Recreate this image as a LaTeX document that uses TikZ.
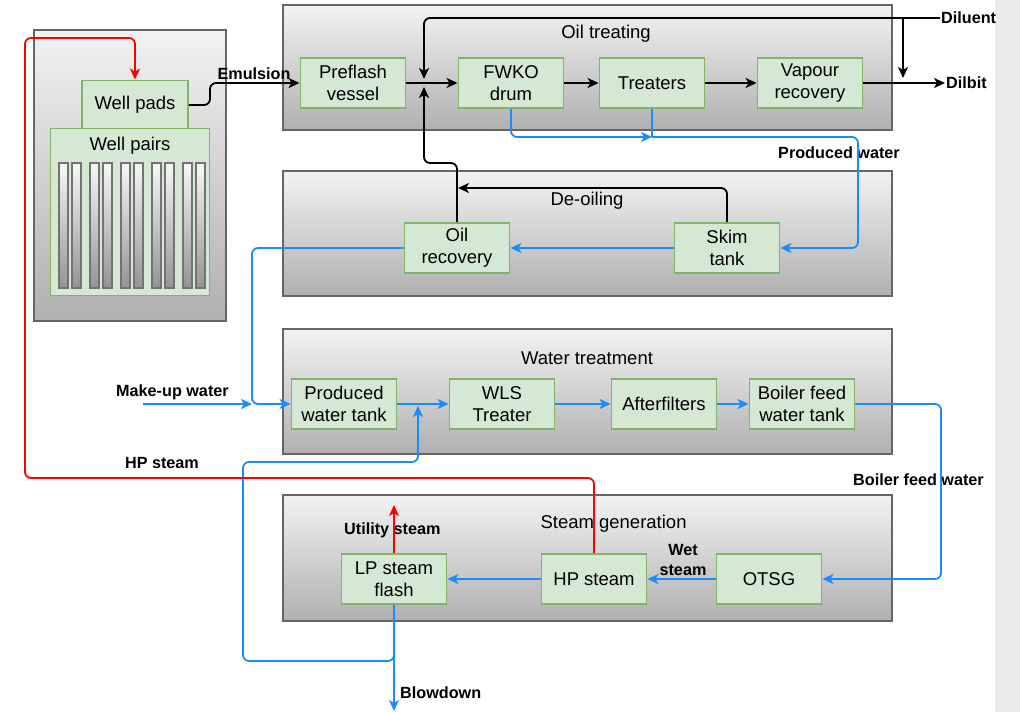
\documentclass[tikz,border=0pt]{standalone}
\usepackage{fontspec}
\setmainfont{Liberation Sans}
\usepackage{tikz}
\usetikzlibrary{arrows.meta,calc}

\definecolor{waterblue}{RGB}{26,140,255}
\definecolor{unitfill}{HTML}{D5E8D4}
\definecolor{unitline}{HTML}{82B366}
\definecolor{groupline}{HTML}{666666}

\begin{document}
\begin{tikzpicture}[x=1pt,y=-1pt,
  unit/.style={draw=unitline,fill=unitfill,line width=1.9pt,minimum width=105pt,
    minimum height=50pt,inner sep=0pt,align=center,font=\fontsize{18.5}{22}\selectfont},
  group/.style={draw=groupline,line width=1.8pt,top color=black!5,bottom color=black!31},
  title/.style={font=\fontsize{18.5}{22}\selectfont},
  tag/.style={font=\fontsize{16.2}{20}\selectfont\bfseries,align=center,inner sep=1pt},
  oil/.style={line width=1.8pt,-{Stealth[length=11pt,width=10pt,inset=3pt]}},
  water/.style={oil,draw=waterblue},
  steam/.style={oil,draw=red},
  tube/.style={draw=black!55,line width=1.4pt,top color=black!3,bottom color=black!42}]

\useasboundingbox (0,0) rectangle (1020,712);
\fill[black!8] (995,0) rectangle (1020,712);

% Well area
\draw[group] (34,30) rectangle (226,321);
\node[unit,minimum width=106pt,minimum height=49pt] (pads) at (135,105) {Well pads};
\node[unit,minimum width=159pt,minimum height=167pt] (pairs) at (130,212) {};
\node[title] (pairstitle) at (130,146) {Well pairs};
\foreach \x in {59,90,121,152,183}{
  \draw[tube] (\x,163) rectangle ++(9,125);
  \draw[tube] (\x+13,163) rectangle ++(9,125);
}

% Process groups
\draw[group] (283,5) rectangle (892,130);
\node[title] (oiltitle) at (606,34) {Oil treating};
\draw[group] (283,171) rectangle (892,296);
\node[title] (deoiltitle) at (587,201) {De-oiling};
\draw[group] (283,329) rectangle (892,454);
\node[title] (watertitle) at (587,358) {Water treatment};
\draw[group] (283,495) rectangle (892,621);
\node[title,anchor=west] (steamtitle) at (537,524) {Steam generation};

% Oil treating units
\node[unit] (preflash) at (353,83) {Preflash\\vessel};
\node[unit] (fwko) at (511,83) {FWKO\\drum};
\node[unit] (treaters) at (652,83) {Treaters};
\node[unit] (vapour) at (810,83) {Vapour\\recovery};

% De-oiling units
\node[unit] (oilrec) at (457,248) {Oil\\recovery};
\node[unit] (skim) at (727,248) {Skim\\tank};

% Water treatment units
\node[unit] (pwtank) at (344,404) {Produced\\water tank};
\node[unit] (wls) at (502,404) {WLS\\Treater};
\node[unit] (filters) at (664,404) {Afterfilters};
\node[unit] (bfwtank) at (802,404) {Boiler feed\\water tank};

% Steam generation units
\node[unit] (lpflash) at (394,579) {LP steam\\flash};
\node[unit] (hpsteam) at (594,579) {HP steam};
\node[unit] (otsg) at (769,579) {OTSG};

% Stream labels
\node[tag] (emulsion) at (254,74) {Emulsion};
\node[tag,anchor=west] (diluent) at (940,18) {Diluent};
\node[tag,anchor=west] (dilbit) at (945,83) {Dilbit};
\node[tag,anchor=west] (pwlabel) at (777,153) {Produced water};
\node[tag,anchor=west] (makeup) at (115,392) {Make-up water};
\node[tag] (hplabel) at (162,463) {HP steam};
\node[tag,anchor=west] (bfwlabel) at (852,480) {Boiler feed water};
\node[tag,anchor=west] (utility) at (343,530) {Utility steam};
\node[tag] (wetsteam) at (683,560) {Wet\\steam};
\node[tag,anchor=west] (blowlabel) at (399,693) {Blowdown};

\coordinate (mix) at (424,83);
\coordinate (dsplit) at (903,18);
\coordinate (pwjoin) at (652,137);
\coordinate (mujoin) at (252,404);
\coordinate (rejoin) at (418,404);
\coordinate (mustart) at (143,404);
\coordinate (utilend) at (394,505);
\coordinate (blowend) at (394,711);

% Oil line
\draw[oil,rounded corners=6pt] (pads.east) -- (210,105) -- (210,83) -- (preflash.west);
\draw[line width=1.8pt] (preflash.east) -- (mix);
\draw[oil] (mix) -- (fwko.west);
\draw[oil] (fwko.east) -- (treaters.west);
\draw[oil] (treaters.east) -- (vapour.west);
\draw[oil] (vapour.east) -- (dilbit.west);
\draw[oil,rounded corners=6pt,shorten >=4pt] (diluent.west) -- (424,18) -- (mix);
\draw[oil,shorten >=5pt] (dsplit) -- (dsplit |- dilbit.west);
\draw[oil,rounded corners=6pt,shorten >=4pt] (oilrec.north) -- (457,163) -- (424,163) -- (mix);
\draw[oil,rounded corners=6pt] (skim.north) -- (727,188) -- (458,188);

% Produced water
\draw[water,rounded corners=6pt] (fwko.south) -- (511,137) -- (pwjoin);
\draw[line width=1.8pt,draw=waterblue] (treaters.south) -- (pwjoin);
\draw[water,rounded corners=6pt] (pwjoin) -- (858,137) -- (858,248) -- (skim.east);
\draw[water] (skim.west) -- (oilrec.east);
\draw[water,rounded corners=6pt] (oilrec.west) -- (252,248) -- (mujoin) -- (pwtank.west);
\draw[water] (mustart) -- (mujoin);

% Water treatment
\draw[line width=1.8pt,draw=waterblue] (pwtank.east) -- (rejoin);
\draw[water] (rejoin) -- (wls.west);
\draw[water] (wls.east) -- (filters.west);
\draw[water] (filters.east) -- (bfwtank.west);
\draw[water,rounded corners=6pt] (bfwtank.east) -- (941,404) -- (941,579) -- (otsg.east);

% Steam generation
\draw[water] (otsg.west) -- (hpsteam.east);
\draw[water] (hpsteam.west) -- (lpflash.east);
\draw[steam] (lpflash.north) -- (utilend);
\draw[water] (lpflash.south) -- (blowend);
\draw[water,rounded corners=6pt,shorten >=2pt] (lpflash.south) -- (394,661) -- (243,661) -- (243,462) -- (418,462) -- (rejoin);
\draw[steam,rounded corners=6pt] (hpsteam.north) -- (594,478) -- (25,478) -- (25,38) -- (135,38) -- (pads.north);

\end{tikzpicture}
\end{document}
